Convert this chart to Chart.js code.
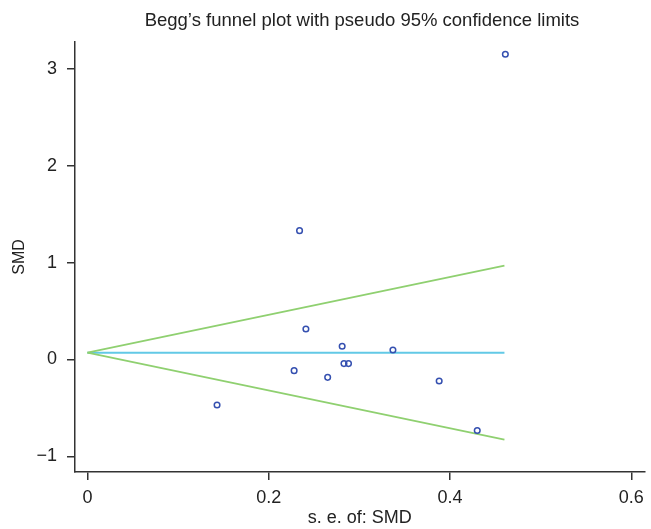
<!DOCTYPE html>
<html>
<head>
<meta charset="utf-8">
<script src="https://cdn.jsdelivr.net/npm/chart.js@4.4.1/dist/chart.umd.min.js"></script>
<style>
  body { margin: 0; background: #fff; }
  #wrap { position: relative; width: 651px; height: 529px; }
  #title {
    position: absolute; top: 9px; left: 362px; transform: translateX(-50%);
    font: 18.5px "Liberation Sans", Arial, sans-serif; color: #222; white-space: nowrap;
  }
</style>
</head>
<body>
<div id="wrap">
  <div id="title">Begg’s funnel plot with pseudo 95% confidence limits</div>
  <canvas id="chart" width="651" height="529"></canvas>
</div>
<script>
// study estimates
var seSmd = [0.143, 0.228, 0.234, 0.241, 0.265, 0.281, 0.283, 0.288, 0.337, 0.388, 0.430, 0.461];
var smd   = [-0.47, -0.115, 1.33, 0.315, -0.184, 0.137, -0.042, -0.042, 0.098, -0.222, -0.732, 3.15];

// pseudo 95% limits (two ends of each line)
var limitSe    = [0, 0.46];
var pooledLine = [0.071, 0.071];
var upperLimit = [0.071, 0.969];
var lowerLimit = [0.071, -0.827];

var xTicks = [0, 0.2, 0.4, 0.6];
var xTickLabels = ['0', '0.2', '0.4', '0.6'];
var yTicks = [-1, 0, 1, 2, 3];
var yTickLabels = ['\u22121', '0', '1', '2', '3'];

function toPoints(xs, ys){
    var pts = [];
    for(var i = 0; i < xs.length; i++){
        pts.push({x: xs[i], y: ys[i]});
    }
    return pts;
}

var fontFamily = '"Liberation Sans", Arial, sans-serif';
var axisColor = '#333';

new Chart(document.getElementById('chart'), {
    type: 'scatter',
    data: {
        datasets: [
            {
                data: toPoints(seSmd, smd),
                pointStyle: 'circle',
                pointRadius: 2.8,
                pointBorderWidth: 1.5,
                pointBorderColor: '#3550b0',
                pointBackgroundColor: 'rgba(0,0,0,0)'
            },
            {
                data: toPoints(limitSe, upperLimit),
                showLine: true, pointRadius: 0,
                borderColor: '#8fd070', borderWidth: 1.8
            },
            {
                data: toPoints(limitSe, lowerLimit),
                showLine: true, pointRadius: 0,
                borderColor: '#8fd070', borderWidth: 1.8
            },
            {
                data: toPoints(limitSe, pooledLine),
                showLine: true, pointRadius: 0,
                borderColor: '#62c9e6', borderWidth: 2
            }
        ]
    },
    options: {
        responsive: false,
        animation: false,
        layout: { padding: { top: 42, right: 1, left: 0, bottom: 0 } },
        plugins: {
            legend: { display: false },
            tooltip: { enabled: false }
        },
        scales: {
            x: {
                type: 'linear',
                min: -0.0137,
                max: 0.6145,
                afterBuildTicks: function(scale){
                    scale.ticks = xTicks.map(function(v){ return {value: v}; });
                },
                afterFit: function(scale){ scale.height = 57; },
                ticks: {
                    color: '#222',
                    padding: 7,
                    font: { family: fontFamily, size: 18 },
                    callback: function(value, index){ return xTickLabels[index]; }
                },
                grid: {
                    drawOnChartArea: false,
                    drawTicks: true,
                    tickLength: 8,
                    color: axisColor,
                    lineWidth: 1.5
                },
                border: { display: true, color: axisColor, width: 1.5 },
                title: {
                    display: true,
                    text: 's. e. of: SMD',
                    color: '#222',
                    font: { family: fontFamily, size: 18 },
                    padding: { top: 0, bottom: 0 }
                }
            },
            y: {
                type: 'linear',
                min: -1.161,
                max: 3.277,
                afterBuildTicks: function(scale){
                    scale.ticks = yTicks.map(function(v){ return {value: v}; });
                },
                afterFit: function(scale){ scale.width = 75; },
                ticks: {
                    color: '#222',
                    padding: 10,
                    font: { family: fontFamily, size: 18 },
                    callback: function(value, index){ return yTickLabels[index]; }
                },
                grid: {
                    drawOnChartArea: false,
                    drawTicks: true,
                    tickLength: 8,
                    color: axisColor,
                    lineWidth: 1.5
                },
                border: { display: true, color: axisColor, width: 1.5 },
                title: {
                    display: true,
                    text: 'SMD',
                    color: '#222',
                    font: { family: fontFamily, size: 16 },
                    padding: { top: 10, bottom: 0 }
                }
            }
        }
    }
});
</script>
</body>
</html>
